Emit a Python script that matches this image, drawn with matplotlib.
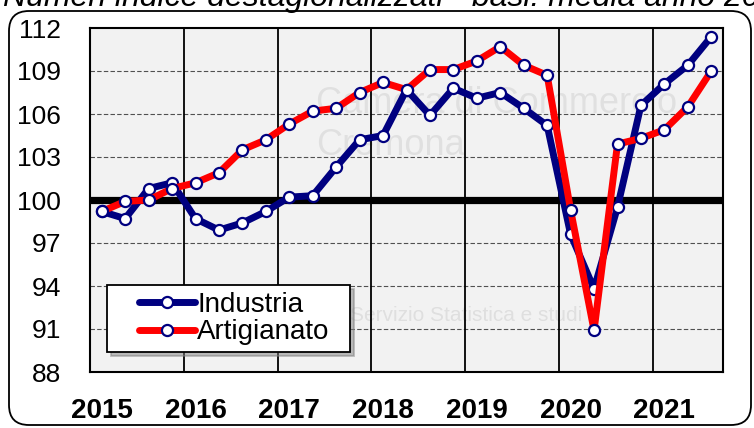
import numpy as np
import matplotlib
matplotlib.use('Agg')
import matplotlib.pyplot as plt
from matplotlib.patches import FancyBboxPatch
from matplotlib.legend_handler import HandlerLine2D
from matplotlib import font_manager

# ---------------- data ----------------
title = "Numeri indice destagionalizzati - basi: media anno 2015=100"
years = ["2015", "2016", "2017", "2018", "2019", "2020", "2021"]
quarters = [f"{y} T{q}" for y in years for q in (1, 2, 3, 4)][:27]
industria = [99.2, 98.7, 100.8, 101.2, 98.7, 97.9, 98.4, 99.2,
             100.2, 100.3, 102.3, 104.2, 104.5, 107.7, 105.9, 107.8,
             107.1, 107.5, 106.4, 105.2, 97.6, 93.8, 99.5, 106.6,
             108.1, 109.4, 111.4]
artigianato = [99.2, 99.9, 100.0, 100.8, 101.2, 101.9, 103.5, 104.2,
               105.3, 106.2, 106.4, 107.5, 108.2, 107.7, 109.1, 109.1,
               109.7, 110.7, 109.4, 108.7, 99.3, 90.9, 103.9, 104.3,
               104.9, 106.5, 109.0]
yticks = [88, 91, 94, 97, 100, 103, 106, 109, 112]
watermark1 = "Camera di Commercio\nCremona"
watermark2 = "Servizio Statistica e studi"

# ---------------- fonts ----------------
names = {f.name for f in font_manager.fontManager.ttflist}
NARROW = 'Liberation Sans Narrow' if 'Liberation Sans Narrow' in names else 'Liberation Sans'
REG = 'Liberation Sans' if 'Liberation Sans' in names else 'DejaVu Sans'

W, H = 754, 428
fig = plt.figure(figsize=(W / 100, H / 100), dpi=100)
fig.patch.set_facecolor('white')
ax = fig.add_axes([90 / W, 1 - 372 / H, 633 / W, 344 / H])

x = np.arange(len(quarters))
NAVY = '#000080'
RED = '#FF0000'

ax.set_facecolor('#F2F2F2')
ax.set_xlim(-0.5, len(quarters) - 0.5)
ax.set_ylim(yticks[0], yticks[-1])

# watermark (faint)
ax.text(0.357, 0.72, watermark1, transform=ax.transAxes, fontsize=26, color='#000000',
        alpha=0.07, family=REG, ha='left', va='center', zorder=0.5, linespacing=1.25)
ax.text(0.41, 0.165, watermark2, transform=ax.transAxes, fontsize=15, color='#000000',
        alpha=0.08, family=REG, ha='left', va='center', zorder=0.5)

# horizontal dashed grid
for yv in yticks[1:-1]:
    if yv != 100:
        ax.axhline(yv, color='#505050', lw=0.8, ls=(0, (4, 2)), zorder=1)
# vertical year separators
for i in range(1, len(years)):
    ax.axvline(4 * i - 0.5, color='black', lw=1.3, zorder=1.5)
# base 100 line
ax.axhline(100, color='black', lw=5.2, zorder=2)

ax.plot(x, industria, color=NAVY, lw=5, marker='o', ms=8, mfc='white', mec=NAVY,
        mew=1.6, zorder=3, label='Industria', solid_joinstyle='round', solid_capstyle='round')
ax.plot(x, artigianato, color=RED, lw=5, marker='o', ms=8, mfc='white', mec=NAVY,
        mew=1.6, zorder=4, label='Artigianato', solid_joinstyle='round', solid_capstyle='round')

ax.set_yticks(yticks)
ax.set_yticklabels([str(v) for v in yticks], family=NARROW, fontsize=19)
ax.set_xticks(np.arange(0, len(quarters), 4))
ax.set_xticklabels(years, family=NARROW, fontsize=20, fontweight='bold')
ax.tick_params(axis='y', length=0, pad=21)
ax.tick_params(axis='x', length=0, pad=19)
for s in ax.spines.values():
    s.set_linewidth(1.5)
    s.set_color('black')

fs = 20
leg = ax.legend(loc='upper left', bbox_to_anchor=(17 / 633, 15 / 344, 243 / 633, 72 / 344),
                mode='expand', borderaxespad=0,
                prop={'family': NARROW, 'size': fs}, frameon=True, fancybox=False,
                shadow={'ox': 3, 'oy': -3, 'color': '#808080'},
                handlelength=2.9, handletextpad=0.1, borderpad=0.25, labelspacing=0.05,
                numpoints=1,
                handler_map={matplotlib.lines.Line2D: HandlerLine2D(xpad=0.9)})
leg.get_frame().set_edgecolor('black')
leg.get_frame().set_linewidth(1.3)
leg.get_frame().set_facecolor('white')
leg.get_frame().set_alpha(1)
leg.set_zorder(10)

# outer rounded frame
frame = FancyBboxPatch((9 / 100, 3 / 100), 742 / 100, 414 / 100,
                       boxstyle='round,pad=0,rounding_size=0.2',
                       transform=fig.dpi_scale_trans, fill=False,
                       edgecolor='black', lw=1.3)
fig.patches.append(frame)

# title, cut at the top edge as in the reference
fig.text(3 / W, 1 - 6 / H, title, fontsize=23, style='italic', family=REG,
         ha='left', va='baseline')

fig.savefig('out.png', dpi=100)
